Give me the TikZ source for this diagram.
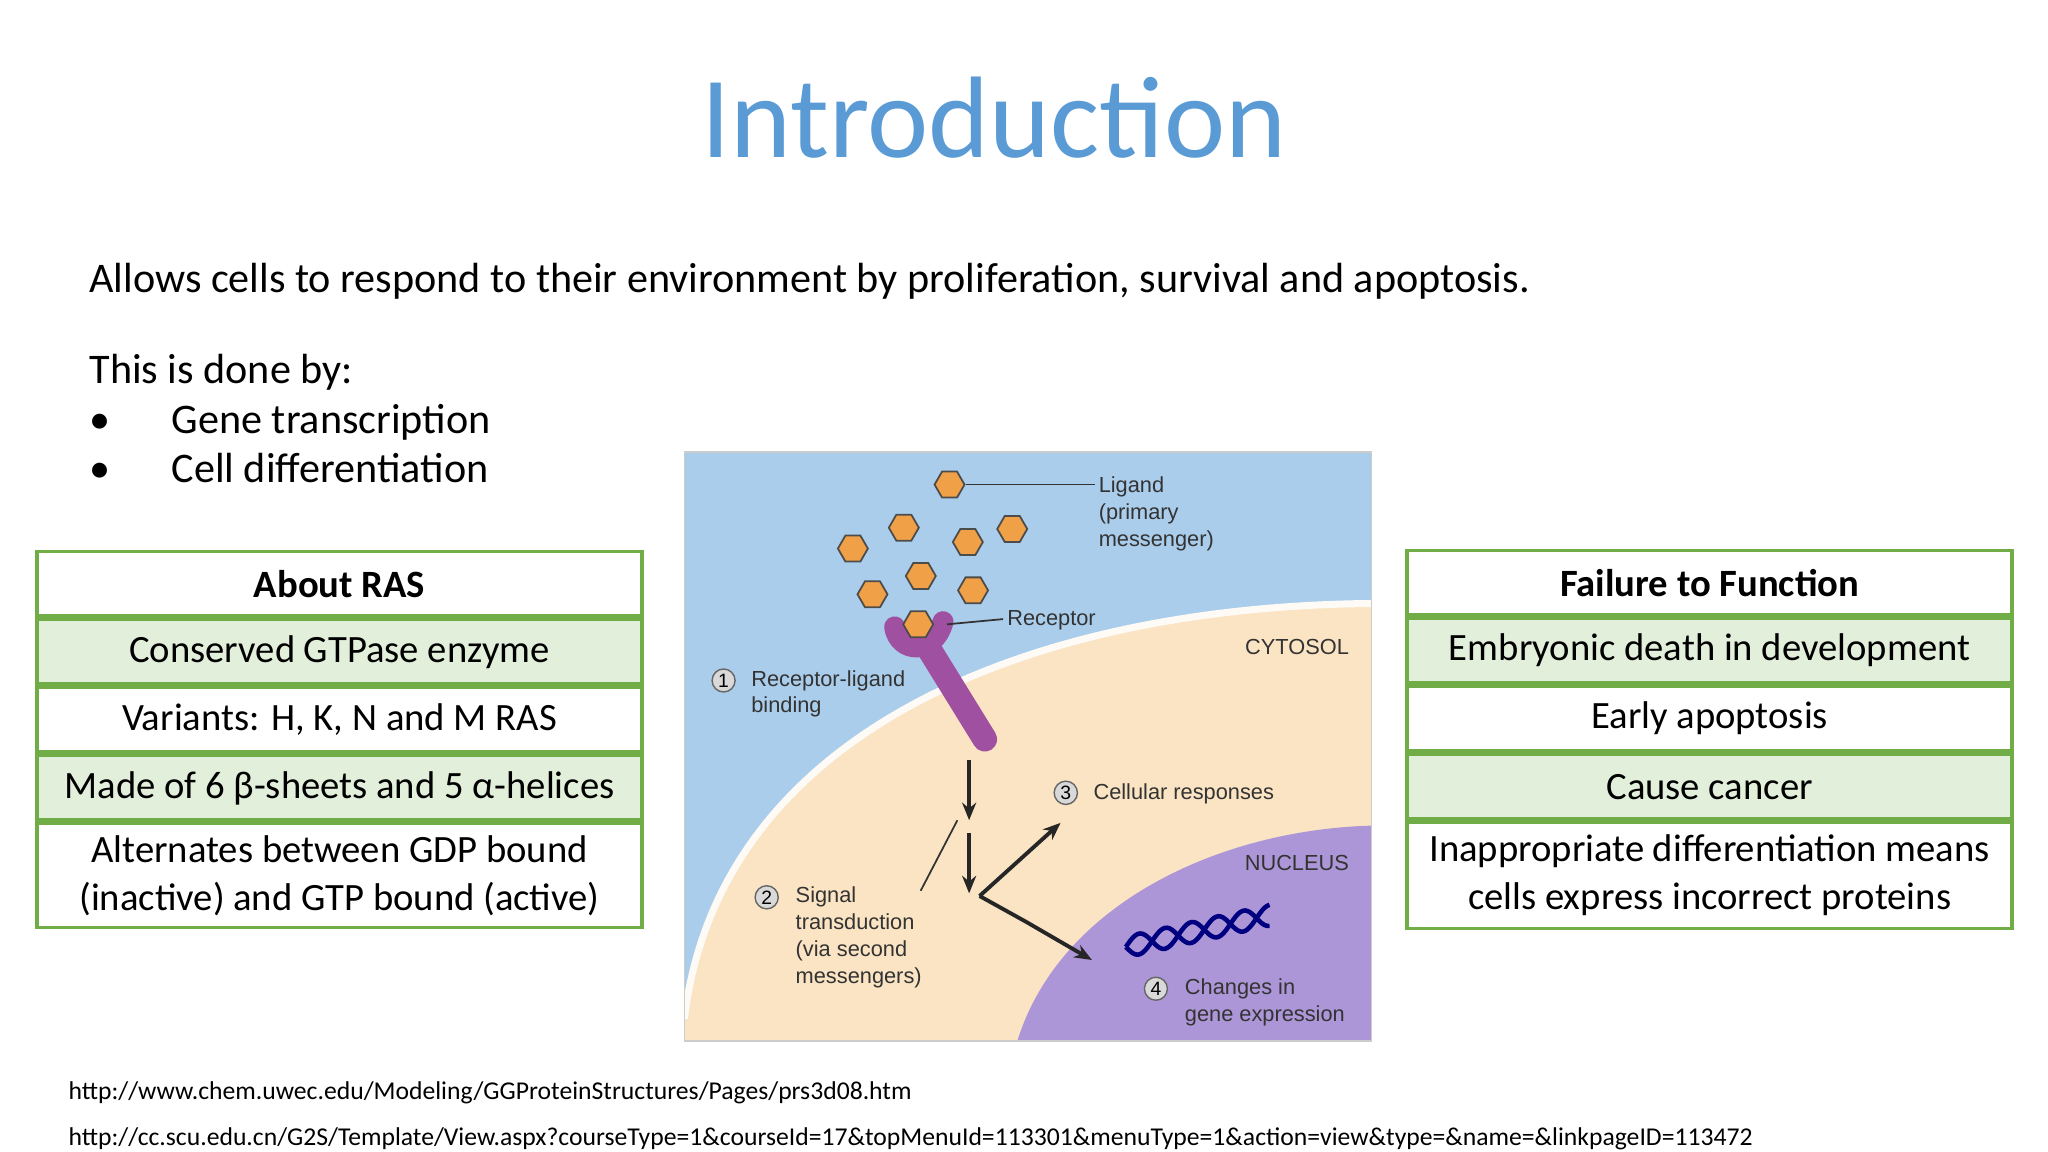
\documentclass[tikz,border=0pt]{standalone}
\usepackage{fontspec}
\setmainfont{Carlito}
\newfontfamily\figfont{Liberation Sans}
\usetikzlibrary{positioning,shapes.geometric,arrows.meta}
\definecolor{titleblue}{RGB}{91,155,213}
\definecolor{tabgreen}{RGB}{112,173,71}
\definecolor{tabfill}{RGB}{226,239,218}
\definecolor{figblue}{RGB}{170,205,235}
\definecolor{figbeige}{RGB}{250,228,195}
\definecolor{figpurple}{RGB}{172,150,215}
\definecolor{recpurple}{RGB}{160,80,160}
\definecolor{hexorange}{RGB}{240,160,70}
\tikzset{
  cell/.style={draw=tabgreen, line width=1pt, minimum width=6.05cm, minimum height=0.645cm,
    inner sep=0pt, align=center, font=\fontsize{11}{13.6}\selectfont},
  shaded/.style={cell, fill=tabfill},
  headcell/.style={cell, font=\fontsize{11}{13.6}\selectfont\bfseries},
  figlabel/.style={font=\figfont\fontsize{6.2}{7.6}\selectfont, text=black!80, align=left, inner sep=1pt},
  numcircle/.style={circle, draw=black!60, fill=black!15, inner sep=0.6pt, font=\figfont\fontsize{5.5}{6}\selectfont},
  hexa/.style={regular polygon, regular polygon sides=6, draw=black!70, fill=hexorange, minimum size=0.3cm, inner sep=0pt, line width=0.5pt},
  sigarrow/.style={-{Stealth[length=5pt,width=4pt]}, line width=1.1pt, black!85}
}
\begin{document}
\begin{tikzpicture}[x=0.01306cm, y=-0.01306cm]
  \useasboundingbox (0,0) rectangle (1568,882);
  % title and text
  \node[text=titleblue, font=\fontsize{33}{38}\selectfont] (title) at (761,90) {Introduction};
  \node[anchor=west, font=\fontsize{12}{14}\selectfont] (intro) at (59,215)
    {Allows cells to respond to their environment by proliferation, survival and apoptosis.};
  \node[anchor=north west, align=left, font=\fontsize{12}{15}\selectfont] (done) at (59,262)
    {This is done by:\\[-1pt]\textbullet\hspace{1.45em}Gene transcription\\[-1pt]\textbullet\hspace{1.45em}Cell differentiation};
  % left table
  \node[headcell, anchor=north west] (ras) at (27,421) {About RAS};
  \node[shaded, below=0pt of ras] (ras1) {Conserved GTPase enzyme};
  \node[cell, below=0pt of ras1] (ras2) {Variants: H, K, N and M RAS};
  \node[shaded, below=0pt of ras2] (ras3) {Made of 6 β-sheets and 5 α-helices};
  \node[cell, below=0pt of ras3, minimum height=1.04cm] (ras4) {Alternates between GDP bound\\(inactive) and GTP bound (active)};
  % right table
  \node[headcell, anchor=north west] (fail) at (1076,420) {Failure to Function};
  \node[shaded, below=0pt of fail] (fail1) {Embryonic death in development};
  \node[cell, below=0pt of fail1] (fail2) {Early apoptosis};
  \node[shaded, below=0pt of fail2] (fail3) {Cause cancer};
  \node[cell, below=0pt of fail3, minimum height=1.06cm] (fail4) {Inappropriate differentiation means\\cells express incorrect proteins};
  % figure
  \begin{scope}
    \clip (524,346) rectangle (1050,797);
    \fill[figblue] (524,346) rectangle (1050,797);
    \fill[figbeige] (524,780) .. controls (550,560) and (790,462) .. (1060,462) -- (1060,800) -- (520,800) -- cycle;
    \draw[white!85!figbeige, line width=2pt] (524,780) .. controls (550,560) and (790,462) .. (1060,462);
    \fill[figpurple] (778,800) .. controls (810,690) and (940,632) .. (1060,632) -- (1060,800) -- cycle;
  \end{scope}
  \draw[black!20] (524,346) rectangle (1050,797);
  % receptor
  \draw[recpurple, line width=7pt, line cap=round] (712,498) -- (754,566);
  \draw[recpurple, line width=6pt, line cap=round] (685,480) .. controls (688,500) and (715,502) .. (722,476);
  % ligands
  \foreach \hx/\hy [count=\i] in {727/371, 653/420, 692/404, 741/415, 775/405, 705/441, 668/455, 745/452, 703/478}
    \node[hexa] (lig\i) at (\hx,\hy) {};
  % DNA
  \draw[blue!50!black, line width=1.3pt, domain=0:110, samples=60, smooth] plot ({862+\x}, {725-0.22*\x-8*sin(\x*9)});
  \draw[blue!50!black, line width=1.3pt, domain=0:110, samples=60, smooth] plot ({862+\x}, {725-0.22*\x+8*sin(\x*9)});
  % labels
  \coordinate (ligend) at (838,371);
  \draw[black!80, line width=0.5pt] (lig1.east) -- (ligend);
  \node[figlabel, anchor=north west] (liglab) at (838,362) {Ligand\\(primary\\messenger)};
  \coordinate (recend) at (768,474);
  \draw[black!80, line width=0.5pt] (725,478) -- (recend);
  \node[figlabel, anchor=west] (reclab) at (768,475) {Receptor};
  \node[figlabel, anchor=east] (cyto) at (1036,495) {CYTOSOL};
  \node[figlabel, anchor=east] (nuc) at (1036,661) {NUCLEUS};
  \node[numcircle] (n1) at (554,521) {1};
  \node[figlabel, anchor=north west] (step1) at (572,510) {Receptor-ligand\\binding};
  \node[numcircle] (n2) at (587,687) {2};
  \node[figlabel, anchor=north west] (step2) at (606,676) {Signal\\transduction\\(via second\\messengers)};
  \node[numcircle] (n3) at (816,607) {3};
  \node[figlabel, anchor=west] (step3) at (834,608) {Cellular responses};
  \node[numcircle] (n4) at (885,757) {4};
  \node[figlabel, anchor=north west] (step4) at (904,746) {Changes in\\gene expression};
  % signal arrows
  \coordinate (a1) at (742,582); \coordinate (a2) at (742,628);
  \coordinate (a3) at (742,638); \coordinate (a4) at (742,684);
  \coordinate (fork) at (750,686); \coordinate (resp) at (812,630);
  \coordinate (bend) at (786,706); \coordinate (gene) at (836,735);
  \draw[sigarrow] (a1) -- (a2);
  \draw[sigarrow] (a3) -- (a4);
  \draw[sigarrow] (fork) -- (resp);
  \draw[sigarrow] (fork) -- (bend) -- (gene);
  \draw[black!80, line width=0.5pt] (step2.north east) ++(-4,6) -- (733,628);
  % references
  \node[anchor=west, font=\fontsize{7.3}{9}\selectfont] (url1) at (43,837) {http://www.chem.uwec.edu/Modeling/GGProteinStructures/Pages/prs3d08.htm};
  \node[anchor=west, font=\fontsize{7.3}{9}\selectfont] (url2) at (43,872) {http://cc.scu.edu.cn/G2S/Template/View.aspx?courseType=1\&courseId=17\&topMenuId=113301\&menuType=1\&action=view\&type=\&name=\&linkpageID=113472};
\end{tikzpicture}
\end{document}
